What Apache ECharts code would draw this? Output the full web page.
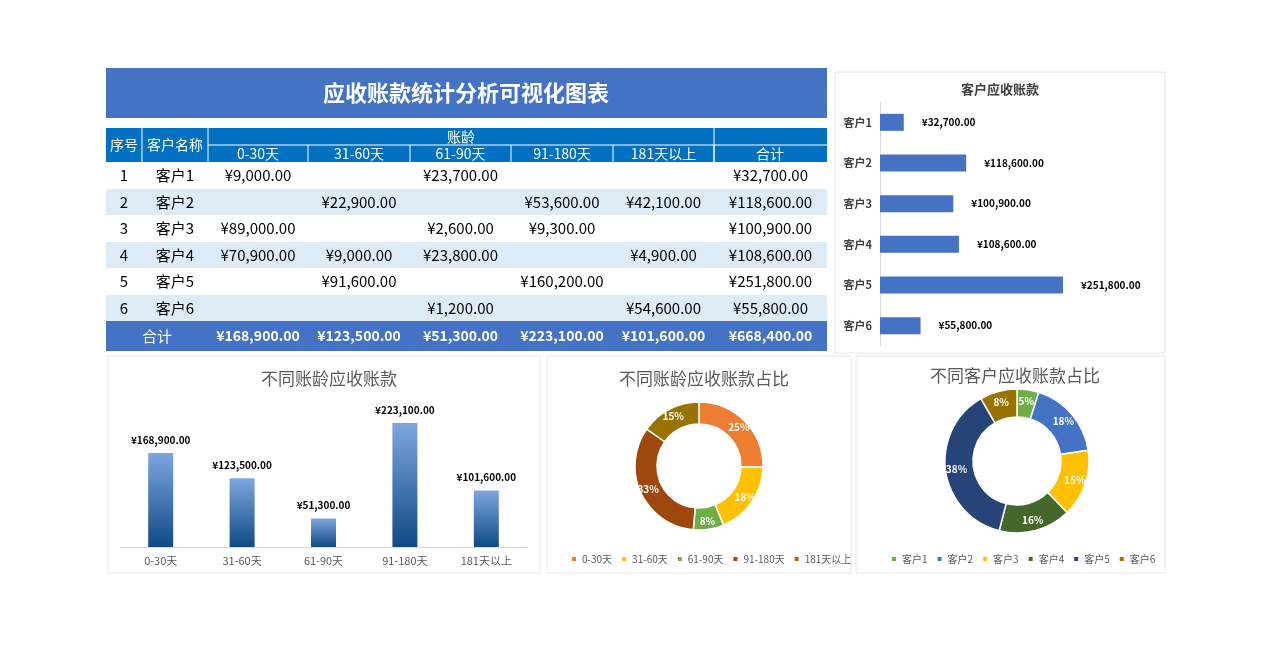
<!DOCTYPE html><html><head><meta charset="utf-8">
<script src="https://cdn.jsdelivr.net/npm/echarts@6/dist/echarts.min.js"></script>
<style>html,body{margin:0;padding:0;background:#fff}#c{width:1280px;height:659px}</style></head><body><div id="c"></div>
<script>
const customers=['客户1','客户2','客户3','客户4','客户5','客户6'];
const ages=['0-30天','31-60天','61-90天','91-180天','181天以上'];
const d0_30=[9000,null,89000,70900,null,null];
const d31_60=[null,22900,null,9000,91600,null];
const d61_90=[23700,null,2600,23800,null,1200];
const d91_180=[null,53600,9300,null,160200,null];
const d181=[null,42100,null,4900,null,54600];
const custTotals=[32700,118600,100900,108600,251800,55800];
const ageTotals=[168900,123500,51300,223100,101600];
const grandTotal=668400;

const FONT='"Noto Sans CJK SC", sans-serif';
const fmt=v=>v==null?'':'¥'+v.toLocaleString('en-US',{minimumFractionDigits:2});
const g=[];
// cards
[[835,72,330,281],[108,356,432,217],[547,356,304,217],[856,356,309,217]].forEach(r=>g.push({type:'rect',shape:{x:r[0],y:r[1],width:r[2],height:r[3]},style:{fill:'#fff',stroke:'#e6e6e6',lineWidth:1},z:-1}));
// title band
g.push({type:'rect',shape:{x:106,y:68,width:721,height:50},style:{fill:'#4472C4'}});
g.push({type:'text',style:{x:466,y:93,text:'应收账款统计分析可视化图表',fill:'#fff',font:'bold 22px '+FONT,align:'center',verticalAlign:'middle'}});
const cx=[106,142,208,308,410,511,613,714,827];
const hdr='#0070C0';
g.push({type:'rect',shape:{x:106,y:128,width:721,height:34},style:{fill:hdr}});
const line=(x1,y1,x2,y2)=>g.push({type:'line',shape:{x1,y1,x2,y2},style:{stroke:'#fff',lineWidth:1}});
line(142,128,142,162);line(208,128,208,162);line(714,128,714,162);line(208,145,827,145);
for(let i=3;i<8;i++)line(cx[i],145,cx[i],162);
const T=(x,y,t,opt={})=>g.push({type:'text',style:Object.assign({x,y,text:t,fill:'#fff',font:'14px '+FONT,align:'center',verticalAlign:'middle'},opt)});
T(124,145,'序号');T(175,145,'客户名称');T(461,137,'账龄');
ages.forEach((a,i)=>T((cx[i+2]+cx[i+3])/2,154,a));T(770,154,'合计');
const cols=[d0_30,d31_60,d61_90,d91_180,d181,custTotals];
const rowY=[162,189,215,242,268,295,321];
for(let r=0;r<6;r++){
  const y0=rowY[r],h=rowY[r+1]-y0,ym=y0+h/2;
  if(r%2==1)g.push({type:'rect',shape:{x:106,y:y0,width:721,height:h},style:{fill:'#DDEBF7'},z:0});
  T(124,ym,String(r+1),{fill:'#000',font:'15px '+FONT});
  T(175,ym,customers[r],{fill:'#000',font:'15px '+FONT});
  cols.forEach((c,j)=>{if(c[r]!=null)T((cx[j+2]+cx[j+3])/2,ym,fmt(c[r]),{fill:'#000',font:'15px '+FONT});});
}
g.push({type:'rect',shape:{x:106,y:321,width:721,height:30},style:{fill:'#4472C4'}});
T(157,336,'合计',{font:'15px '+FONT});
ageTotals.concat([grandTotal]).forEach((v,j)=>T((cx[j+2]+cx[j+3])/2,336,fmt(v),{font:'bold 14px '+FONT}));

const ageColors=['#ED7D31','#FFC000','#70AD47','#9E480E','#997300'];
const custColors=['#70AD47','#4472C4','#FFC000','#43682B','#264478','#997300'];
const pct=p=>Math.round(p.percent)+'%';
const opt={
 animation:false,
 textStyle:{fontFamily:FONT},
 graphic:g,
 title:[
  {text:'客户应收账款',left:995,top:78,textAlign:'center',textStyle:{fontSize:13,fontWeight:'bold',color:'#404040'}},
  {text:'不同账龄应收账款',left:324,top:365,textAlign:'center',textStyle:{fontSize:17,fontWeight:'normal',color:'#595959'}},
  {text:'不同账龄应收账款占比',left:699,top:365,textAlign:'center',textStyle:{fontSize:17,fontWeight:'normal',color:'#595959'}},
  {text:'不同客户应收账款占比',left:1010,top:362,textAlign:'center',textStyle:{fontSize:17,fontWeight:'normal',color:'#595959'}}
 ],
 grid:[
  {left:880,top:102,width:218,height:244},
  {left:120,top:408,width:407,height:139}
 ],
 xAxis:[
  {gridIndex:0,type:'value',max:300000,show:false},
  {gridIndex:1,type:'category',data:ages,axisTick:{show:false},axisLine:{lineStyle:{color:'#d9d9d9'}},axisLabel:{color:'#595959',fontSize:11}}
 ],
 yAxis:[
  {gridIndex:0,type:'category',data:customers,inverse:true,axisTick:{show:false},axisLine:{lineStyle:{color:'#d9d9d9'}},axisLabel:{color:'#404040',fontSize:11,fontWeight:'bold'}},
  {gridIndex:1,type:'value',max:250000,show:false}
 ],
 legend:[
  {data:ages,left:699,top:549,orient:'horizontal',textAlign:'center',itemWidth:6,itemHeight:6,itemGap:8,icon:'rect',textStyle:{fontSize:10,color:'#595959'},formatter:n=>n},
  {data:customers,top:549,itemWidth:6,itemHeight:6,itemGap:8,icon:'rect',textStyle:{fontSize:10,color:'#595959'}}
 ],
 series:[
  {type:'bar',xAxisIndex:0,yAxisIndex:0,data:custTotals,barWidth:17,itemStyle:{color:'#4472C4'},
   label:{show:true,position:'right',distance:18,formatter:p=>fmt(p.value),fontSize:10,fontWeight:'bold',color:'#000'}},
  {type:'bar',xAxisIndex:1,yAxisIndex:1,data:ageTotals,barWidth:25,
   itemStyle:{color:new echarts.graphic.LinearGradient(0,0,0,1,[{offset:0,color:'#7EA6DF'},{offset:1,color:'#0F4A84'}])},
   label:{show:true,position:'top',distance:8,formatter:p=>fmt(p.value),fontSize:10,fontWeight:'bold',color:'#000'}},
  {type:'pie',center:[699,466],radius:[42,64],legendIndex:0,startAngle:90,
   data:ages.map((a,i)=>({name:a,value:ageTotals[i]})),color:ageColors,
   itemStyle:{borderColor:'#fff',borderWidth:1.5},
   label:{show:true,position:'inside',formatter:pct,color:'#fff',fontSize:10,fontWeight:'bold'},labelLine:{show:false}},
  {type:'pie',center:[1017,461],radius:[44,72],startAngle:90,
   data:customers.map((c,i)=>({name:c,value:custTotals[i]})),color:custColors,
   itemStyle:{borderColor:'#fff',borderWidth:1.5},
   label:{show:true,position:'inside',formatter:pct,color:'#fff',fontSize:10,fontWeight:'bold'},labelLine:{show:false}}
 ]
};
const ch=echarts.init(document.getElementById('c'));
opt.legend[0]={data:ages,left:565,top:549,itemWidth:6,itemHeight:6,itemGap:8,icon:'rect',textStyle:{fontSize:10,color:'#595959'}};
opt.legend[1].left=885;
ch.setOption(opt);
</script></body></html>
